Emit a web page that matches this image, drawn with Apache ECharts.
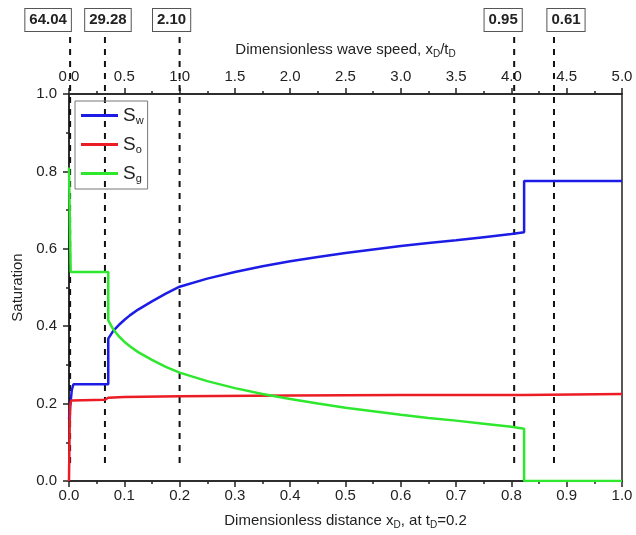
<!DOCTYPE html>
<html>
<head>
<meta charset="utf-8">
<script src="https://cdn.jsdelivr.net/npm/echarts@6/dist/echarts.min.js"></script>
<style>
  html, body { margin: 0; padding: 0; background: #fff; }
  #chart { width: 636px; height: 535px; }
</style>
</head>
<body>
<div id="chart"></div>
<script>
// Saturation profiles at tD = 0.2
const swX = [0, 0.002, 0.005, 0.008, 0.071, 0.071, 0.08, 0.09, 0.1, 0.11, 0.125, 0.15, 0.175, 0.2, 0.25, 0.3, 0.35, 0.4, 0.45, 0.5, 0.55, 0.6, 0.65, 0.7, 0.75, 0.8, 0.823, 0.823, 1.0];
const swY = [0.16, 0.19, 0.235, 0.25, 0.25, 0.368, 0.388, 0.403, 0.416, 0.428, 0.443, 0.464, 0.484, 0.502, 0.523, 0.54, 0.555, 0.568, 0.579, 0.589, 0.598, 0.607, 0.615, 0.622, 0.63, 0.638, 0.643, 0.775, 0.775];

const soX = [0, 0.001, 0.002, 0.004, 0.065, 0.071, 0.1, 0.2, 0.4, 0.6, 0.823, 0.823, 1.0];
const soY = [0, 0.12, 0.195, 0.208, 0.21, 0.215, 0.217, 0.219, 0.221, 0.222, 0.222, 0.225, 0.225];

const sgX = [0, 0.003, 0.003, 0.071, 0.071, 0.08, 0.09, 0.1, 0.11, 0.125, 0.15, 0.175, 0.2, 0.25, 0.3, 0.35, 0.4, 0.45, 0.5, 0.55, 0.6, 0.65, 0.7, 0.75, 0.8, 0.823, 0.823, 1.0];
const sgY = [0.81, 0.81, 0.54, 0.54, 0.415, 0.392, 0.374, 0.36, 0.348, 0.333, 0.313, 0.295, 0.28, 0.258, 0.24, 0.225, 0.212, 0.2, 0.189, 0.18, 0.171, 0.163, 0.156, 0.148, 0.14, 0.135, 0, 0];

// wave positions (xD) and the boxed values above them
const waveX = [0.002, 0.065, 0.2, 0.805, 0.877];
const waveLabels = ['64.04', '29.28', '2.10', '0.95', '0.61'];
const boxShift = [-22, 3, -8, -11, 12];

const FONT = 'Liberation Sans, Arial, sans-serif';
const AXIS_COLOR = '#222';

function zip(xs, ys) {
  return xs.map((x, i) => [x, ys[i]]);
}

const chart = echarts.init(document.getElementById('chart'));

const subRich = {
  t: { fontFamily: FONT, fontSize: 15, color: '#222' },
  sub: { fontFamily: FONT, fontSize: 10, color: '#222', padding: [8, 0, 0, 0] }
};

const tickStyle = { color: AXIS_COLOR, width: 1.5 };

chart.setOption({
  animation: false,
  textStyle: { fontFamily: FONT },
  grid: {
    left: 69, right: 14, top: 94, bottom: 52,
    show: true, borderColor: AXIS_COLOR, borderWidth: 1.5
  },
  legend: {
    left: 75, top: 101,
    orient: 'vertical',
    data: ['Sw', 'So', 'Sg'],
    icon: 'rect',
    borderColor: '#777', borderWidth: 1,
    padding: [5, 4, 5, 6],
    itemGap: 9, itemWidth: 37, itemHeight: 3,
    formatter: name => '{s|S}{sub|' + name.slice(1) + '}',
    textStyle: {
      rich: {
        s: { fontFamily: FONT, fontSize: 19, color: '#222', lineHeight: 19 },
        sub: { fontFamily: FONT, fontSize: 11, color: '#222', padding: [10, 0, 0, 0] }
      }
    }
  },
  xAxis: [
    {
      type: 'value', position: 'bottom', min: 0, max: 1, interval: 0.1,
      name: '{t|Dimensionless distance x}{sub|D}{t|, at t}{sub|D}{t|=0.2}',
      nameLocation: 'middle', nameGap: 31,
      nameTextStyle: { rich: subRich },
      axisLine: { lineStyle: tickStyle },
      axisTick: { inside: false, length: 6, lineStyle: tickStyle },
      minorTick: { show: true, splitNumber: 2, length: 3, lineStyle: tickStyle },
      axisLabel: { fontSize: 15, color: '#222', margin: 7, formatter: v => v.toFixed(1) },
      splitLine: { show: false }
    },
    {
      type: 'value', position: 'top', min: 0, max: 5, interval: 0.5,
      name: '{t|Dimensionless wave speed, x}{sub|D}{t|/t}{sub|D}',
      nameLocation: 'middle', nameGap: 35,
      nameTextStyle: { rich: subRich },
      axisLine: { lineStyle: tickStyle },
      axisTick: { inside: false, length: 6, lineStyle: tickStyle },
      minorTick: { show: true, splitNumber: 2, length: 3, lineStyle: tickStyle },
      axisLabel: { fontSize: 15, color: '#222', margin: 10, formatter: v => v.toFixed(1) },
      splitLine: { show: false }
    }
  ],
  yAxis: {
    type: 'value', min: 0, max: 1, interval: 0.2,
    name: 'Saturation', nameLocation: 'middle', nameGap: 43,
    nameTextStyle: { fontFamily: FONT, fontSize: 15, color: '#222' },
    axisLine: { show: true, lineStyle: tickStyle },
    axisTick: { show: true, inside: false, length: 6, lineStyle: tickStyle },
    minorTick: { show: true, splitNumber: 2, length: 3, lineStyle: tickStyle },
    axisLabel: { fontSize: 15, color: '#222', margin: 12, formatter: v => v.toFixed(1) },
    splitLine: { show: false }
  },
  series: [
    {
      name: 'Sw', type: 'line', data: zip(swX, swY), symbol: 'none', z: 3,
      lineStyle: { color: '#1c1ce6', width: 2.5 }, itemStyle: { color: '#1c1ce6' }
    },
    {
      name: 'So', type: 'line', data: zip(soX, soY), symbol: 'none', z: 3,
      lineStyle: { color: '#ec1c24', width: 2.5 }, itemStyle: { color: '#ec1c24' }
    },
    {
      name: 'Sg', type: 'line', data: zip(sgX, sgY), symbol: 'none', z: 3,
      lineStyle: { color: '#2ee82e', width: 2.5 }, itemStyle: { color: '#2ee82e' }
    }
  ]
});

// dashed wave lines and their boxed values, placed through the x scale
const yBottom = chart.convertToPixel({ yAxisIndex: 0 }, 0.035);
const graphics = [];
waveX.forEach((x, i) => {
  const px = chart.convertToPixel({ xAxisIndex: 0 }, x);
  graphics.push({
    type: 'line', z: 1,
    shape: { x1: px, y1: 37, x2: px, y2: yBottom },
    style: { stroke: '#111', lineWidth: 2, lineDash: [6, 6] }
  });
  graphics.push({
    type: 'text', z: 5,
    x: px + boxShift[i], y: 20,
    style: {
      text: waveLabels[i],
      font: 'bold 15px ' + FONT,
      fill: '#222',
      align: 'center', verticalAlign: 'middle',
      backgroundColor: '#fff',
      borderColor: '#555', borderWidth: 1,
      padding: [4, 4, 3, 4]
    }
  });
});
chart.setOption({ graphic: graphics });
</script>
</body>
</html>
